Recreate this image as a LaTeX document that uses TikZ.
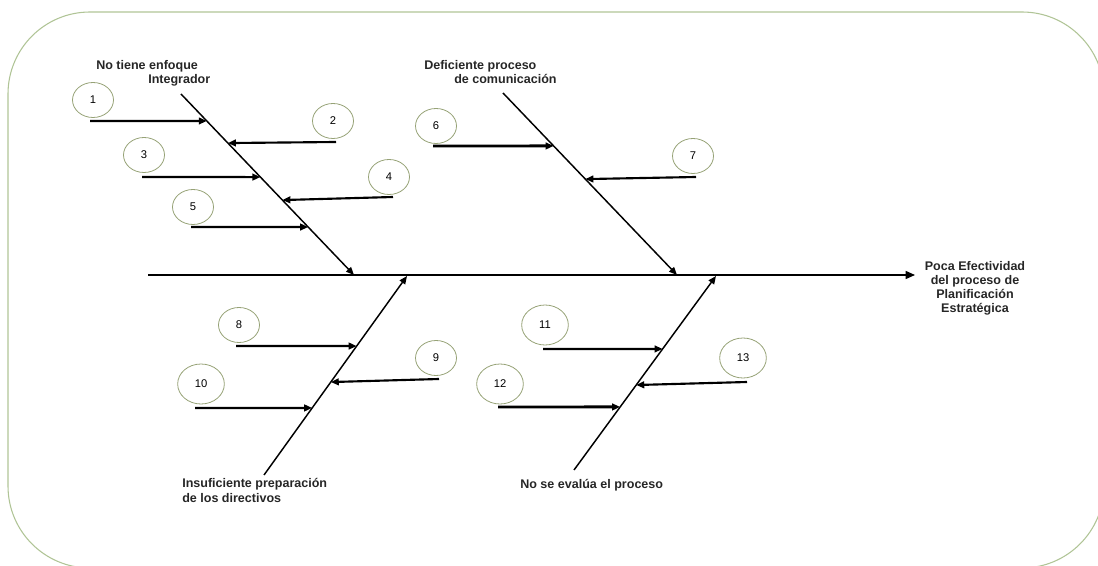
\documentclass[tikz,border=0pt]{standalone}
\usepackage{fontspec}
\setmainfont{Liberation Sans}
\usepackage{tikz}
\usetikzlibrary{arrows.meta, shapes.geometric}
\definecolor{frame}{RGB}{176,196,150}
\definecolor{ring}{RGB}{150,162,118}
\tikzstyle{num} = [ellipse, draw=ring, line width=0.6pt, inner sep=0pt,
                 minimum width=30.75pt, minimum height=26.25pt, font=\fontsize{8.4}{9}\selectfont]
\tikzstyle{numbig} = [num, minimum width=35pt, minimum height=30pt]
\tikzset{
	spine/.style={line width=1.1pt, -{Triangle[length=7pt,width=6pt]}},
	bone/.style={line width=1.1pt, -{Triangle[length=6pt,width=5pt]}},
	cause/.style={line width=1.6pt, -{Triangle[length=6pt,width=5pt]}},
	label/.style={font=\fontsize{9.4}{10.7}\selectfont\bfseries, text=black!85,
		inner sep=0pt, align=left},
}

\begin{document}
\begin{tikzpicture}[x=0.75pt, y=-0.75pt]
\useasboundingbox (0,0) rectangle (1098,566);
\clip (0,0) rectangle (1098,566);

% frame
\draw[frame, line width=0.8pt, rounded corners=61.5pt] (8,12) rectangle (1104,568);

% spine and effect
\coordinate (tail) at (148,275);
\coordinate (head) at (915,275);
\draw[spine] (tail) -- (head);
\node[label, align=center, anchor=base] (effect) at (975,313)
	{Poca Efectividad\\del proceso de\\Planificación\\Estratégica};

% main bones
\coordinate (s1) at (181,94);
\coordinate (h1) at (354,275);
\draw[bone] (s1) -- coordinate[pos=.149] (b1) coordinate[pos=.271] (b2)
	coordinate[pos=.459] (b3) coordinate[pos=.586] (b4) coordinate[pos=.735] (b5) (h1);
\coordinate (s2) at (503,93);
\coordinate (h2) at (677,275);
\draw[bone] (s2) -- coordinate[pos=.291] (b6) coordinate[pos=.473] (b7) (h2);
\coordinate (s3) at (264,475);
\coordinate (h3) at (407,276);
\draw[bone] (s3) -- coordinate[pos=.648] (b8) coordinate[pos=.467] (b9)
	coordinate[pos=.337] (b10) (h3);
\coordinate (s4) at (574,470);
\coordinate (h4) at (716,276);
\draw[bone] (s4) -- coordinate[pos=.624] (b11) coordinate[pos=.325] (b12)
	coordinate[pos=.438] (b13) (h4);

% bone labels
\node[label, anchor=base west] (lab1) at (96,84)
	{No tiene enfoque\\\hspace*{39pt}Integrador};
\node[label, anchor=base west] (lab2) at (424,84)
	{Deficiente proceso\\\hspace*{22.5pt}de comunicación};
\node[label, anchor=base west] (lab3) at (182,502)
	{Insuficiente preparación\\de los directivos};
\node[label, anchor=base west] (lab4) at (520,488) {No se evalúa el proceso};

% numbered causes
\foreach \n/\x/\y/\tx/\ty/\s in {1/93/100/90/121/num, 2/333/121/336/142/num,
	3/144/155/142/177/num, 4/389/177/393/197/num, 5/193/207/191/227/num,
	6/436/126/433/146/num, 7/693/156/696/177/num, 8/239/325/236/346/num,
	9/436/358/439/379/num, 10/201/384/195/408/numbig, 11/545/325/543/349/numbig,
	12/500/384/498/407/numbig, 13/743/358/747/382/numbig}
{
	\node[\s] (n\n) at (\x,\y) {\n};
	\coordinate (t\n) at (\tx,\ty);
}

\foreach \n in {1,2,3,4,5,7,8,9,10,11,13}
	\draw[cause] (t\n) -- (b\n);
\foreach \n in {6,12}
	\draw[cause, line width=2.2pt] (t\n) -- (b\n);

\end{tikzpicture}
\end{document}
